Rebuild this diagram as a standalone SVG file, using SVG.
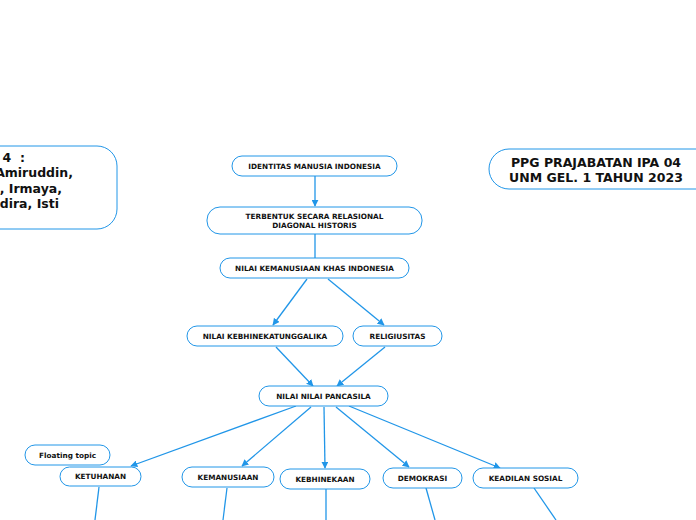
<svg xmlns="http://www.w3.org/2000/svg" width="696" height="520" viewBox="0 0 696 520">
<defs>
<marker id="ah" viewBox="0 0 10 10" refX="9" refY="5" markerWidth="7" markerHeight="7" orient="auto" markerUnits="userSpaceOnUse">
<path d="M0,0 L10,5 L0,10 z" fill="#2196e8"/>
</marker>
<style>
.n rect{fill:#fff;stroke:#2196e8;stroke-width:1}
.n text{font-family:"DejaVu Sans",Verdana,sans-serif;font-weight:bold;font-size:7.3px;fill:#111;text-anchor:middle}
.big text{font-size:12.5px}
.c line{stroke:#2196e8;stroke-width:1.3;fill:none}
.c .a{marker-end:url(#ah)}
</style>
</defs>
<rect width="696" height="520" fill="#fff"/>
<g class="c">
<line class="a" x1="315" y1="176" x2="315" y2="206"/>
<line x1="315" y1="234" x2="315" y2="258"/>
<line class="a" x1="307" y1="279" x2="273" y2="325"/>
<line class="a" x1="328" y1="279" x2="384" y2="325"/>
<line class="a" x1="276" y1="347" x2="313" y2="386"/>
<line class="a" x1="385" y1="347" x2="337" y2="386"/>
<line class="a" x1="296" y1="406" x2="131" y2="466"/>
<line class="a" x1="311" y1="407" x2="242" y2="466"/>
<line class="a" x1="324" y1="407" x2="325" y2="468"/>
<line class="a" x1="336" y1="407" x2="409" y2="467"/>
<line class="a" x1="349" y1="406" x2="500" y2="468"/>
<line x1="99" y1="487" x2="95" y2="520"/>
<line x1="227" y1="488" x2="223" y2="520"/>
<line x1="326" y1="489" x2="326" y2="520"/>
<line x1="426" y1="488" x2="435" y2="520"/>
<line x1="534" y1="488" x2="556" y2="520"/>
</g>
<g id="kelompok" class="n big">
<rect x="-120" y="146" width="237" height="83" rx="20"/>
<text x="25" y="162" style="text-anchor:end" xml:space="preserve">4  :</text>
<text x="73" y="177" style="text-anchor:end">Amiruddin,</text>
<text x="62" y="193" style="text-anchor:end">i, Irmaya,</text>
<text x="59" y="208" style="text-anchor:end">adira, Isti</text>
</g>
<g id="ppg" class="n big">
<rect x="489" y="149" width="230" height="40" rx="20"/>
<text x="596" y="167">PPG PRAJABATAN IPA 04</text>
<text x="596" y="182">UNM GEL. 1 TAHUN 2023</text>
</g>
<g id="identitas" class="n">
<rect x="232" y="156" width="165" height="20" rx="10"/>
<text x="314.5" y="168.5">IDENTITAS MANUSIA INDONESIA</text>
</g>
<g id="terbentuk" class="n">
<rect x="207" y="207" width="215" height="27" rx="13"/>
<text x="314.5" y="218.5">TERBENTUK SECARA RELASIONAL</text>
<text x="314.5" y="228">DIAGONAL HISTORIS</text>
</g>
<g id="kemanusiaan-khas" class="n">
<rect x="220" y="258" width="189" height="20" rx="10"/>
<text x="314.5" y="270.5">NILAI KEMANUSIAAN KHAS INDONESIA</text>
</g>
<g id="kebhinekatunggalika" class="n">
<rect x="187" y="326" width="156" height="20" rx="10"/>
<text x="265" y="338.5">NILAI KEBHINEKATUNGGALIKA</text>
</g>
<g id="religiusitas" class="n">
<rect x="353" y="326" width="89" height="20" rx="10"/>
<text x="397.5" y="338.5">RELIGIUSITAS</text>
</g>
<g id="pancasila" class="n">
<rect x="259" y="386" width="129" height="20" rx="10"/>
<text x="323.5" y="398.5">NILAI NILAI PANCASILA</text>
</g>
<g id="floating" class="n">
<rect x="25" y="445" width="85" height="20" rx="10"/>
<text x="67.5" y="457.5">Floating topic</text>
</g>
<g id="ketuhanan" class="n">
<rect x="60" y="467" width="81" height="19" rx="9.5"/>
<text x="100.5" y="479">KETUHANAN</text>
</g>
<g id="kemanusiaan" class="n">
<rect x="182" y="467" width="92" height="20" rx="10"/>
<text x="228" y="479.5">KEMANUSIAAN</text>
</g>
<g id="kebhinekaan" class="n">
<rect x="280" y="469" width="90" height="20" rx="10"/>
<text x="325" y="481.5">KEBHINEKAAN</text>
</g>
<g id="demokrasi" class="n">
<rect x="383" y="468" width="79" height="20" rx="10"/>
<text x="422.5" y="480.5">DEMOKRASI</text>
</g>
<g id="keadilan" class="n">
<rect x="473" y="468" width="105" height="20" rx="10"/>
<text x="525.5" y="480.5">KEADILAN SOSIAL</text>
</g>
</svg>
